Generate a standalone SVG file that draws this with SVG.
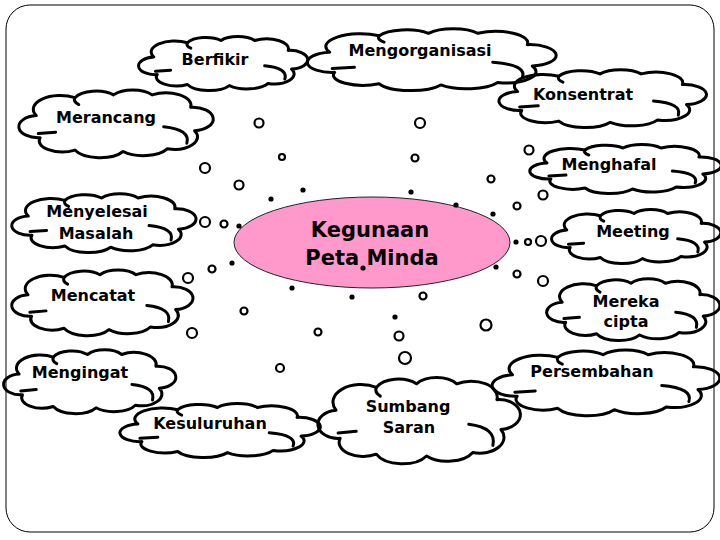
<svg xmlns="http://www.w3.org/2000/svg" xmlns:xlink="http://www.w3.org/1999/xlink" width="720" height="540" viewBox="0 0 720 540">
<style>
.cl{fill:none;stroke:#000;stroke-width:3;stroke-linejoin:round;stroke-linecap:round}
.t{font-family:"DejaVu Sans","Verdana",sans-serif;font-weight:bold;font-size:16px;fill:#000;text-anchor:middle}
.c{fill:#fff;stroke:#000;stroke-width:2.2}
.d{fill:#000}
</style>
<defs>
<symbol id="cloud" viewBox="0 0 100 100" preserveAspectRatio="none" overflow="visible">
<path class="cl" vector-effect="non-scaling-stroke" d="M12,72 A10,16 0 0 1 10,40 A14,20 0 0 1 30,14 A12,16 0 0 1 50,10 A12,16 0 0 1 70,10 A13,18 0 0 1 90,28 A10,16 0 0 1 92,62 A12,18 0 0 1 78,88 A14,18 0 0 1 55,92 A14,18 0 0 1 30,90 A12,16 0 0 1 12,72 Z"/>
<path class="cl" vector-effect="non-scaling-stroke" d="M11,66 L20,64 M76,56 Q90,60 88,80 M30,14 Q29,20 32,24"/>
</symbol>
</defs>
<rect x="6" y="5" width="708" height="527" rx="24" ry="24" fill="#fff" stroke="#000" stroke-width="1"/>
<g id="connectors">
<circle class="c" cx="259" cy="123" r="4.5"/>
<circle class="c" cx="420" cy="123" r="5"/>
<circle class="c" cx="282" cy="157" r="3"/>
<circle class="c" cx="415" cy="158" r="3.5"/>
<circle class="c" cx="205" cy="168" r="5"/>
<circle class="c" cx="239" cy="185" r="4.5"/>
<circle class="c" cx="491" cy="179" r="3.5"/>
<circle class="c" cx="529" cy="150" r="4.5"/>
<circle class="c" cx="517" cy="206" r="3.5"/>
<circle class="c" cx="543" cy="195" r="4.5"/>
<circle class="c" cx="205" cy="222" r="5"/>
<circle class="c" cx="224" cy="224" r="3.5"/>
<circle class="c" cx="528" cy="242" r="3"/>
<circle class="c" cx="541" cy="241" r="5"/>
<circle class="c" cx="212" cy="269" r="3.5"/>
<circle class="c" cx="188" cy="278" r="5"/>
<circle class="c" cx="517" cy="274" r="3.5"/>
<circle class="c" cx="543" cy="281" r="5"/>
<circle class="c" cx="423" cy="296" r="3.5"/>
<circle class="c" cx="244" cy="311" r="3.5"/>
<circle class="c" cx="192" cy="333" r="5"/>
<circle class="c" cx="318" cy="332" r="3.5"/>
<circle class="c" cx="399" cy="336" r="4.5"/>
<circle class="c" cx="486" cy="325" r="5.5"/>
<circle class="c" cx="405" cy="358" r="6"/>
<circle class="c" cx="280" cy="368" r="4"/>
<circle class="d" cx="271" cy="199" r="2.6"/>
<circle class="d" cx="303" cy="190" r="2.6"/>
<circle class="d" cx="411" cy="192" r="2.6"/>
<circle class="d" cx="239" cy="226" r="2.6"/>
<circle class="d" cx="516" cy="242" r="2.6"/>
<circle class="d" cx="232" cy="263" r="2.6"/>
<circle class="d" cx="292" cy="288" r="2.6"/>
<circle class="d" cx="352" cy="297" r="2.6"/>
<circle class="d" cx="395" cy="317" r="2.6"/>
</g>
<g id="center">
<ellipse cx="372" cy="242.5" rx="138" ry="45.5" fill="#FF99CC" stroke="#222" stroke-width="1"/>
<text class="t" style="font-size:21px" x="370" y="237">Kegunaan</text>
<text class="t" style="font-size:21px" x="372" y="265">Peta Minda</text>
<circle class="d" cx="456" cy="205" r="2.6"/>
<circle class="d" cx="493" cy="214" r="2.6"/>
<circle class="d" cx="363" cy="268" r="2.6"/>
<circle class="d" cx="496" cy="267" r="2.6"/>
</g>
<g id="berfikir"><use href="#cloud" x="137" y="35" width="168" height="55"/><text class="t" x="215" y="65">Berfikir</text></g>
<g id="mengorganisasi"><use href="#cloud" x="305" y="27" width="247" height="63"/><text class="t" x="420" y="56">Mengorganisasi</text></g>
<g id="konsentrat"><use href="#cloud" x="497" y="68" width="206" height="59"/><text class="t" x="583" y="100">Konsentrat</text></g>
<g id="merancang"><use href="#cloud" x="17" y="88" width="193" height="69"/><text class="t" x="106" y="123">Merancang</text></g>
<g id="menghafal"><use href="#cloud" x="528" y="143" width="190" height="50"/><text class="t" x="609" y="170">Menghafal</text></g>
<g id="menyelesai"><use href="#cloud" x="10" y="192" width="183" height="60"/><text class="t" x="97" y="217">Menyelesai</text><text class="t" x="96" y="239">Masalah</text></g>
<g id="meeting"><use href="#cloud" x="550" y="208" width="168" height="55"/><text class="t" x="633" y="237">Meeting</text></g>
<g id="mencatat"><use href="#cloud" x="10" y="268" width="180" height="67"/><text class="t" x="93" y="301">Mencatat</text></g>
<g id="mereka"><use href="#cloud" x="545" y="277" width="172" height="63"/><text class="t" x="626" y="307">Mereka</text><text class="t" x="626" y="327">cipta</text></g>
<g id="mengingat"><use href="#cloud" x="2" y="348" width="171" height="65"/><text class="t" x="80" y="378">Mengingat</text></g>
<g id="kesuluruhan"><use href="#cloud" x="118" y="402" width="199" height="55"/><text class="t" x="210" y="429">Kesuluruhan</text></g>
<g id="sumbang"><use href="#cloud" x="316" y="375" width="201" height="88"/><text class="t" x="408" y="412">Sumbang</text><text class="t" x="409" y="433">Saran</text></g>
<g id="persembahan"><use href="#cloud" x="490" y="348" width="226" height="67"/><text class="t" x="592" y="377">Persembahan</text></g>
</svg>
